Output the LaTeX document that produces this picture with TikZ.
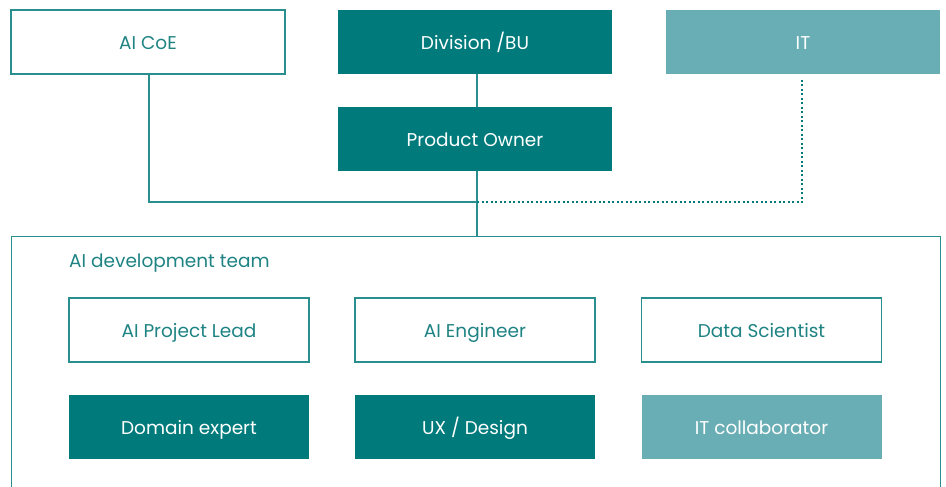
\documentclass[tikz,border=0pt]{standalone}
\usepackage{fontspec}
\setmainfont{Poppins}
\definecolor{teal1}{HTML}{007A7B}
\definecolor{teal2}{HTML}{69AEB4}
\definecolor{lineteal}{HTML}{2A8E8E}
\definecolor{txtteal}{HTML}{1F8383}
\begin{document}
\begin{tikzpicture}[x=1pt,y=-1pt,
  base/.style={minimum width=274pt,minimum height=64pt,inner sep=0pt,text height=15pt,text depth=0pt,font=\fontsize{18.5}{22}\selectfont},
  small/.style={base,minimum width=240pt},
  outline/.style={draw=lineteal,line width=1.3pt,fill=white,text=txtteal},
  darkbox/.style={fill=teal1,text=white},
  lightbox/.style={fill=teal2,text=white},
  conn/.style={draw=lineteal,line width=1.3pt},
  dots/.style={draw=teal1,line width=2pt,dash pattern=on 2pt off 2.5pt}]
\useasboundingbox (0,0) rectangle (946,487);
\begin{scope}
\clip (0,0) rectangle (946,487);
\node[draw=lineteal,line width=1.3pt,minimum width=929pt,minimum height=280pt,inner sep=0pt,anchor=north west] (team) at (11,236) {};
\end{scope}
\node[base,outline] (coe) at (148,42) {AI CoE};
\node[base,darkbox] (div) at (475,42) {Division /BU};
\node[base,lightbox] (it) at (803,42) {IT};
\node[base,darkbox] (po) at (475,139) {Product Owner};
\coordinate (j1) at (477,202);
\coordinate (j2) at (802,202);
\coordinate (itb) at (802,80);
\draw[conn] (div.south -| j1) -- (po.north -| j1);
\draw[conn] (po.south -| j1) -- (team.north -| j1);
\draw[conn] (coe.south -| 149,0) |- (j1);
\draw[dots] (j1) -- (j2) -- (itb);
\node[anchor=base west,text=txtteal,font=\fontsize{18.5}{22}\selectfont,inner sep=0pt] (lbl) at (69,267) {AI development team};
\node[small,outline] (lead) at (189,330) {AI Project Lead};
\node[small,outline] (eng) at (475,330) {AI Engineer};
\node[small,outline] (ds) at (761.5,330) {Data Scientist};
\node[small,darkbox] (dom) at (189,427) {Domain expert};
\node[small,darkbox] (ux) at (475,427) {UX / Design};
\node[small,lightbox] (itc) at (761.5,427) {IT collaborator};
\end{tikzpicture}
\end{document}
